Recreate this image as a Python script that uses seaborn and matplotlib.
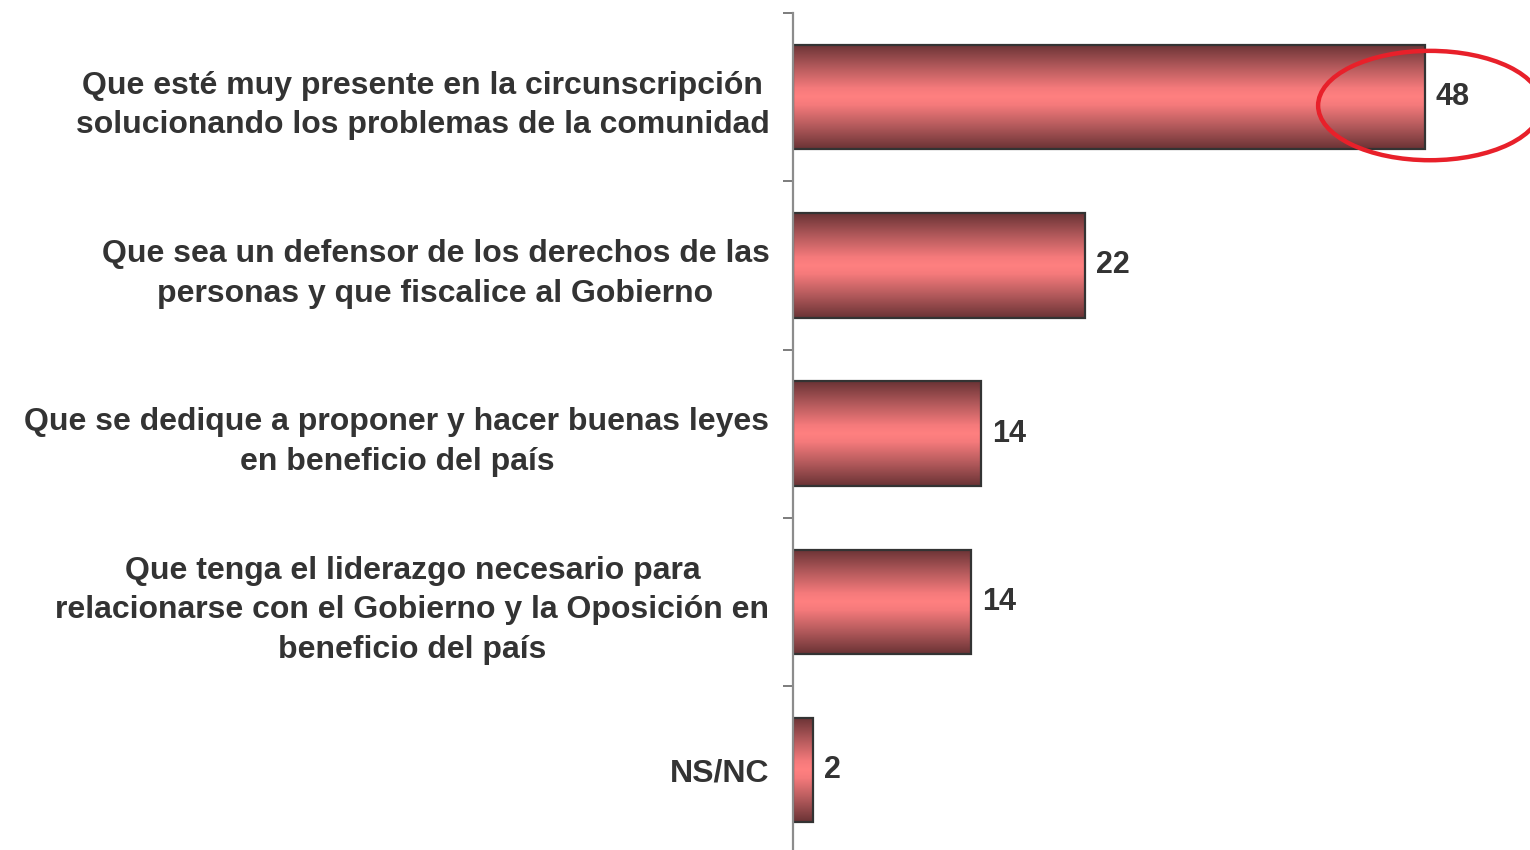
import numpy as np
import pandas as pd
import matplotlib
matplotlib.use("Agg")
import matplotlib.pyplot as plt
from matplotlib.colors import LinearSegmentedColormap
from matplotlib.patches import Ellipse
import seaborn as sns

categories = [
    "Que esté muy presente en la circunscripción\nsolucionando los problemas de la comunidad",
    "Que sea un defensor de los derechos de las\npersonas y que fiscalice al Gobierno",
    "Que se dedique a proponer y hacer buenas leyes\nen beneficio del país",
    "Que tenga el liderazgo necesario para\nrelacionarse con el Gobierno y la Oposición en\nbeneficio del país",
    "NS/NC",
]
values = [48, 22.2, 14.3, 13.5, 1.5]
value_labels = ["48", "22", "14", "14", "2"]

sns.set_theme(style="white")
plt.rcParams['font.family'] = ['Liberation Sans Narrow', 'Liberation Sans', 'DejaVu Sans']

TEXT = "#333333"
fig = plt.figure(figsize=(15.3, 8.5), dpi=100)
ax = fig.add_axes([0.5183, -0.005, 0.4817, 0.9897])

df = pd.DataFrame({"cat": categories, "val": values})
sns.barplot(data=df, x="val", y="cat", orient="h", ax=ax, width=0.62,
            color="#ff8080", edgecolor="#333333", linewidth=1.6)

cmap = LinearSegmentedColormap.from_list(
    "bar", [(0.0, "#6a3335"), (0.22, "#b45a5c"), (0.42, "#f57a7b"), (0.5, "#ff8080"),
            (0.58, "#f57a7b"), (0.78, "#b45a5c"), (1.0, "#6a3335")])
grad = np.linspace(0, 1, 256).reshape(-1, 1)
for p in list(ax.patches):
    x0, y0 = p.get_x(), p.get_y()
    w, h = p.get_width(), p.get_height()
    im = ax.imshow(grad, cmap=cmap, aspect="auto", extent=(x0, x0 + w, y0 + h, y0),
                   zorder=1, interpolation="bilinear")
    im.set_clip_path(p)
    p.set_facecolor("none")
    p.set_zorder(2)

ax.set_xlim(0, 56)
ax.set_ylim(len(categories) - 0.5, -0.5)

for i, (v, lab) in enumerate(zip(values, value_labels)):
    ax.annotate(lab, (v, i), xytext=(8, 0), textcoords="offset points",
                ha="left", va="center", fontsize=22, fontweight="bold", color=TEXT)

ell = Ellipse((48.4, 0.05), width=17.0, height=0.65, fill=False,
              edgecolor="#e8202a", linewidth=3.2, clip_on=False, zorder=5)
ax.add_patch(ell)

ax.set_xlabel("")
ax.set_ylabel("")
ax.set_xticks([])
ax.set_yticks(range(len(categories)))
ax.set_yticklabels(categories, fontsize=23, fontweight="bold", color=TEXT,
                   multialignment="center", linespacing=1.42)
for t in ax.get_yticklabels():
    t.set_verticalalignment("center_baseline")
ax.tick_params(axis="y", which="major", length=0, pad=17)
ax.set_yticks(np.arange(-0.5, len(categories), 1.0), minor=True)
ax.tick_params(axis="y", which="minor", length=7, width=1.2, color="#666666", left=True)

for s in ["top", "right", "bottom"]:
    ax.spines[s].set_visible(False)
ax.spines["left"].set_color("#8c8c8c")
ax.spines["left"].set_linewidth(1.6)

fig.savefig("out.png", dpi=100)
